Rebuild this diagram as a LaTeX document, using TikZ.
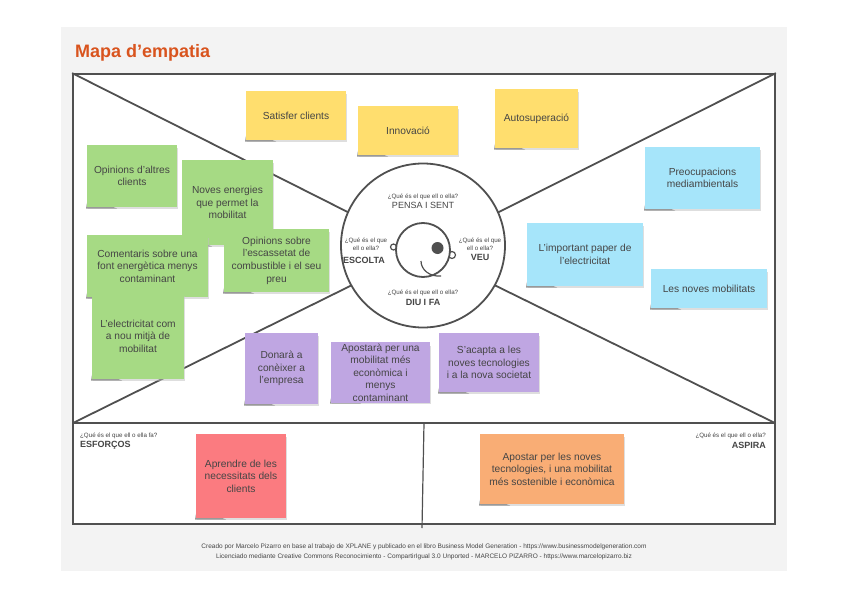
\documentclass[tikz,border=0pt]{standalone}
\usepackage{fontspec}
\setmainfont{Liberation Sans}
\definecolor{panel}{HTML}{F3F3F3}
\definecolor{ink}{HTML}{505050}
\definecolor{txt}{HTML}{454545}
\definecolor{titlec}{HTML}{D9541E}
\definecolor{yel}{HTML}{FFDE6E}
\definecolor{blu}{HTML}{A6E5FA}
\definecolor{gre}{HTML}{A6DA84}
\definecolor{pur}{HTML}{BFA6E2}
\definecolor{red2}{HTML}{FB7B80}
\definecolor{ora}{HTML}{F9AD75}
\tikzset{
  frameline/.style={draw=ink,line width=1.8pt},
  thinline/.style={draw=ink,line width=1.2pt},
  notebox/.style={inner sep=1pt,align=center,font=\fontsize{10.2}{12.6}\selectfont,text=txt},
  asklabel/.style={inner sep=0pt,align=center,text=txt,font=\fontsize{6.2}{7.5}\selectfont},
  headlabel/.style={inner sep=0pt,align=center,text=txt,font=\fontsize{9}{10}\selectfont\bfseries},
  foottext/.style={inner sep=0pt,align=center,text=txt,font=\fontsize{6.5}{10.5}\selectfont},
}
% name, x0, y0, x1, y1, colour, text
\newcommand{\stickynote}[7]{%
  \fill[black!25,opacity=.5] (#2+1,#3+3) rectangle (#4+0.8,#5+1.5);
  \fill[black!40] (#2+1,#5-10) -- (#2-1,#5+1.5) -- (#2+30,#5+1.5) -- cycle;
  \path let \n1={(#2+#4)/2}, \n2={(#3+#5)/2}, \n3={#4-#2}, \n4={#5-#3} in
    node[notebox,fill=#6,minimum width=\n3 pt,minimum height=\n4 pt] (#1) at (\n1,\n2) {#7};
}
\usetikzlibrary{calc}
\begin{document}
\begin{tikzpicture}[x=1pt,y=-1pt]
\useasboundingbox (0,0) rectangle (848,599);
\fill[white] (0,0) rectangle (848,599);
\fill[panel] (61,27) rectangle (787,571);
\node[anchor=west,inner sep=0pt,text=titlec,font=\fontsize{18}{20}\selectfont\bfseries] (title) at (75,53) {Mapa d'empatia};
\node[frameline,fill=white,minimum width=702pt,minimum height=450pt,inner sep=0pt] (map) at (424,299) {};
\coordinate (midL) at (73,423);
\coordinate (midR) at (775,423);
\coordinate (divTop) at (424,423);
\coordinate (divBot) at (422,528);
\coordinate (hubc) at (423,250);
\draw[frameline] (map.north west) -- (hubc);
\draw[frameline] (map.north east) -- (hubc);
\draw[frameline] (midL) -- (hubc);
\draw[frameline] (midR) -- (hubc);
\draw[frameline] (midL) -- (midR);
\draw[thinline] (divTop) -- (divBot);
\node[circle,frameline,fill=white,minimum size=164pt,inner sep=0pt] (hub) at (423,245.5) {};
% face
\node[circle,thinline,fill=white,minimum size=6pt,inner sep=0pt] (earL) at (393.5,247) {};
\node[circle,thinline,fill=white,minimum size=7pt,inner sep=0pt] (earR) at (452,255) {};
\node[circle,frameline,fill=white,minimum size=54pt,inner sep=0pt] (head) at (423,250) {};
\node[circle,fill=ink,minimum size=12pt,inner sep=0pt] (eye) at (437.5,248) {};
\coordinate (smileA) at (421,261);
\coordinate (smileB) at (441,276);
\draw[thinline] (smileA) .. controls (421,270) and (430,277) .. (smileB);
% circle labels
\node[asklabel] (q1) at (423,197) {¿Qué és el que ell o ella?};
\node[headlabel,font=\fontsize{9}{10}\selectfont] (l1) at (423,205.5) {PENSA I SENT};
\node[asklabel] (q2) at (366,244) {¿Qué és el que\\ell o ella?};
\node[headlabel] (l2) at (364,260) {ESCOLTA};
\node[asklabel] (q3) at (480,244) {¿Qué és el que\\ell o ella?};
\node[headlabel] (l3) at (480,257) {VEU};
\node[asklabel] (q4) at (423,293) {¿Qué és el que ell o ella?};
\node[headlabel] (l4) at (423,302) {DIU I FA};
% lower labels
\node[asklabel,anchor=west] (q5) at (80,436) {¿Qué és el que ell o ella fa?};
\node[headlabel,anchor=west] (l5) at (80,445) {ESFORÇOS};
\node[asklabel,anchor=east] (q6) at (766,436) {¿Qué és el que ell o ella?};
\node[headlabel,anchor=east] (l6) at (766,445) {ASPIRA};
% yellow
\stickynote{n1}{246}{91}{346}{140}{yel}{Satisfer clients}
\stickynote{n2}{358}{106}{458}{155}{yel}{Innovació}
\stickynote{n3}{495}{89}{578}{148}{yel}{Autosuperació}
% blue
\stickynote{n4}{645}{147}{760}{209}{blu}{Preocupacions\\mediambientals}
\stickynote{n5}{527}{223}{643}{286}{blu}{L'important paper de\\l'electricitat}
\stickynote{n6}{651}{269}{767}{308}{blu}{Les noves mobilitats}
% green
\stickynote{n7}{87}{145}{177}{207}{gre}{Opinions d'altres\\clients}
\stickynote{n8}{182}{160}{273}{245}{gre}{Noves energies\\que permet la\\mobilitat}
\stickynote{n9}{224}{229}{329}{292}{gre}{Opinions sobre\\l'escassetat de\\combustible i el seu\\preu}
\stickynote{n10}{87}{235}{208}{297}{gre}{Comentaris sobre una\\font energètica menys\\contaminant}
\stickynote{n11}{92}{293}{184}{379}{gre}{L'electricitat com\\a nou mitjà de\\mobilitat}
% purple
\stickynote{n12}{245}{333}{318}{404}{pur}{Donarà a\\conèixer a\\l'empresa}
\stickynote{n13}{331}{343}{430}{402}{pur}{Apostarà per una\\mobilitat més\\econòmica i\\menys\\contaminant}
\stickynote{n14}{439}{333}{539}{392}{pur}{S'acapta a les\\noves tecnologies\\i a la nova societat}
% lower
\stickynote{n15}{196}{434}{286}{518}{red2}{Aprendre de les\\necessitats dels\\clients}
\stickynote{n16}{480}{434}{624}{504}{ora}{Apostar per les noves\\tecnologies, i una mobilitat\\més sostenible i econòmica}
% footer
\node[foottext] (foot) at (424,552) {Creado por Marcelo Pizarro en base al trabajo de XPLANE y publicado en el libro Business Model Generation - https://www.businessmodelgeneration.com\\Licenciado mediante Creative Commons Reconocimiento - CompartirIgual 3.0 Unported - MARCELO PIZARRO - https://www.marcelopizarro.biz};
\end{tikzpicture}
\end{document}
